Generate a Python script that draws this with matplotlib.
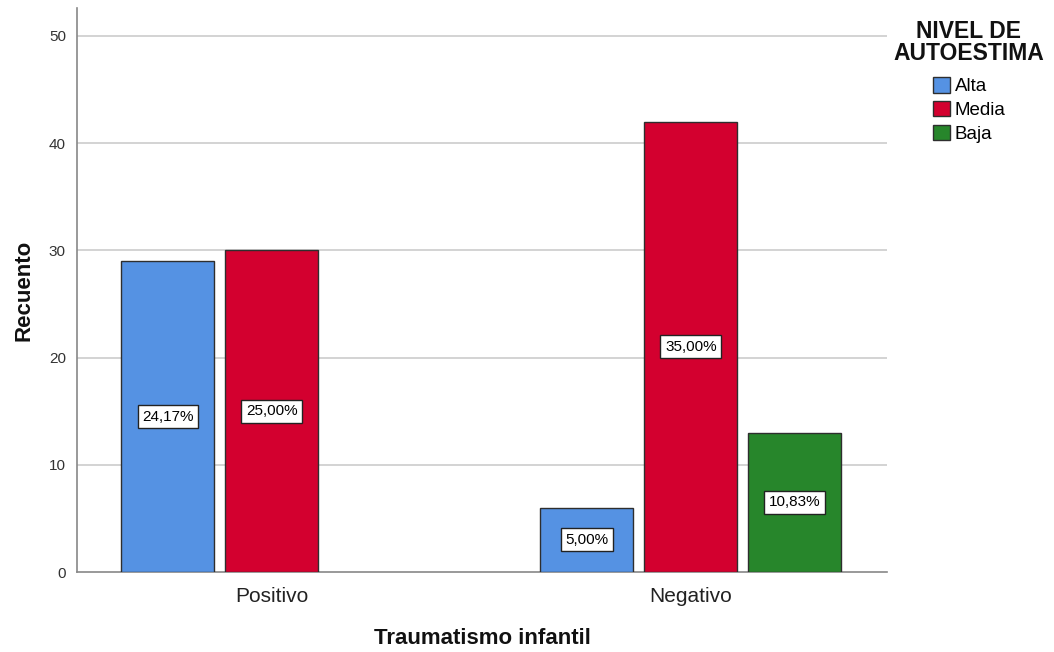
import matplotlib
matplotlib.use("Agg")
import matplotlib.pyplot as plt
import numpy as np

plt.rcParams['font.family'] = ['Liberation Sans', 'DejaVu Sans']

categories = ["Positivo", "Negativo"]
series = ["Alta", "Media", "Baja"]
counts = {
    "Alta": [29, 6],
    "Media": [30, 42],
    "Baja": [0, 13],
}
pct_labels = {
    "Alta": ["24,17%", "5,00%"],
    "Media": ["25,00%", "35,00%"],
    "Baja": [None, "10,83%"],
}
colors = {"Alta": "#5592e3", "Media": "#d3002f", "Baja": "#27862b"}
yticks = [0, 10, 20, 30, 40, 50]

W, H = 1054, 652
fig = plt.figure(figsize=(W / 100, H / 100), dpi=100)
ax = fig.add_axes([77 / W, 1 - 572 / H, (887 - 77) / W, (572 - 8) / H])

x = np.arange(len(categories))
slot = 0.248
width = 0.222
handles = []
for i, s in enumerate(series):
    pos = x + (i - 1) * slot
    vals = counts[s]
    for j, (p, v) in enumerate(zip(pos, vals)):
        if v <= 0:
            continue
        ax.bar(p, v, width=width, color=colors[s], edgecolor="#2e2e2e",
               linewidth=1.0, zorder=3)
        lab = pct_labels[s][j]
        if lab:
            ax.text(p, v / 2, lab, ha="center", va="center", fontsize=11,
                    zorder=4,
                    bbox=dict(boxstyle="square,pad=0.3", fc="white",
                              ec="#222222", lw=1.0))
    handles.append(plt.Rectangle((0, 0), 1, 1, fc=colors[s], ec="#2e2e2e", lw=1.0))

ax.set_xlim(-0.465, 1.468)
ax.set_ylim(0, 52.6)
ax.set_yticks(yticks)
ax.set_xticks(x)
ax.set_xticklabels(categories, fontsize=15, color="#222222")
ax.tick_params(axis="y", length=0, pad=8, labelsize=11, labelcolor="#333333")
ax.tick_params(axis="x", length=0, pad=11)
for sp in ["top", "right"]:
    ax.spines[sp].set_visible(False)
for sp in ["left", "bottom"]:
    ax.spines[sp].set_color("#888888")
    ax.spines[sp].set_linewidth(1.2)
for t in yticks[1:]:
    ax.axhline(t, color="#cccccc", lw=1.2, zorder=1)

fig.text(482 / W, 1 - 638 / H, "Traumatismo infantil", ha="center", va="center",
         fontsize=16, fontweight="bold", color="#111111")
fig.text(24 / W, 1 - 290 / H, "Recuento", ha="center", va="center", rotation=90,
         fontsize=16, fontweight="bold", color="#111111")

fig.text(969 / W, 1 - 32 / H, "NIVEL DE", ha="center", va="center",
         fontsize=16.5, fontweight="bold", color="#111111")
fig.text(969 / W, 1 - 53 / H, "AUTOESTIMA", ha="center", va="center",
         fontsize=16.5, fontweight="bold", color="#111111")
leg = fig.legend(handles, series, loc="upper left",
                 bbox_to_anchor=(933 / W, 1 - 77 / H), frameon=False, fontsize=13.5,
                 handlelength=0.9, handleheight=0.9, handletextpad=0.25,
                 labelspacing=0.3, borderpad=0, borderaxespad=0)

fig.savefig("out.png", dpi=100)
